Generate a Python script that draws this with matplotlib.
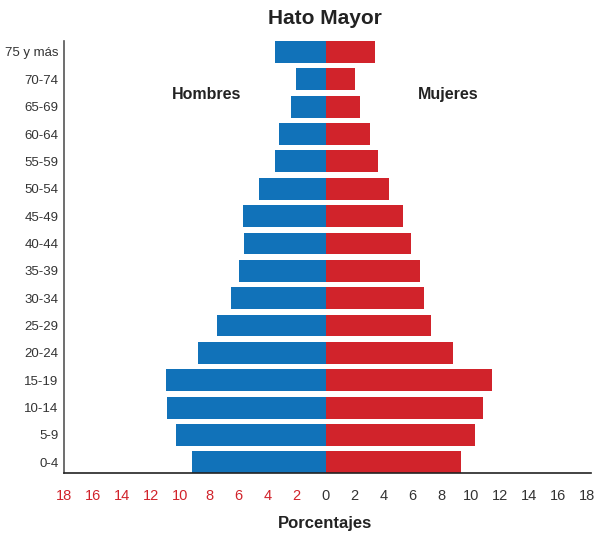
import numpy as np
import matplotlib
matplotlib.use("Agg")
import matplotlib.pyplot as plt

# Age groups (bottom to top)
ages = ["0-4", "5-9", "10-14", "15-19", "20-24", "25-29", "30-34", "35-39",
        "40-44", "45-49", "50-54", "55-59", "60-64", "65-69", "70-74", "75 y más"]

# Percentages
hombres = [9.2, 10.3, 10.9, 11.0, 8.8, 7.5, 6.5, 5.95, 5.6, 5.7, 4.55, 3.5, 3.2, 2.35, 2.0, 3.5]
mujeres = [9.35, 10.3, 10.85, 11.45, 8.8, 7.25, 6.8, 6.5, 5.9, 5.35, 4.4, 3.6, 3.05, 2.35, 2.05, 3.4]

xticks = [-18, -16, -14, -12, -10, -8, -6, -4, -2, 0, 2, 4, 6, 8, 10, 12, 14, 16, 18]

blue = "#1172b9"
red = "#d1232b"

plt.rcParams["font.family"] = ["Liberation Sans", "DejaVu Sans"]

fig = plt.figure(figsize=(5.96, 5.36), dpi=100)
ax = fig.add_axes([0.1074, 0.117, 0.885, 0.8065])

y = np.arange(len(ages))
ax.barh(y, -np.array(hombres), height=0.8, color=blue)
ax.barh(y, mujeres, height=0.8, color=red)

ax.set_xlim(-18, 18.3)
ax.set_ylim(-0.4, 15.4)

ax.set_yticks(y)
ax.set_yticklabels(ages, fontsize=9.5, color="#333333")
ax.set_xticks(xticks)
ax.set_xticklabels([str(abs(v)) for v in xticks], fontsize=10.5)
for lab, v in zip(ax.get_xticklabels(), xticks):
    lab.set_color(red if v < 0 else "#333333")
ax.tick_params(axis="both", length=0)
ax.tick_params(axis="x", pad=11)
ax.tick_params(axis="y", pad=4)

for side in ["top", "right"]:
    ax.spines[side].set_visible(False)
ax.spines["left"].set_color("#555555")
ax.spines["bottom"].set_color("#222222")
ax.spines["left"].set_linewidth(1.2)
ax.spines["bottom"].set_linewidth(1.2)

fig.text(0.546, 0.966, "Hato Mayor", ha="center", va="center",
         fontsize=15, fontweight="bold", color="#222222")
fig.text(0.346, 0.824, "Hombres", ha="center", va="center",
         fontsize=11.5, fontweight="bold", color="#222222")
fig.text(0.752, 0.824, "Mujeres", ha="center", va="center",
         fontsize=11.5, fontweight="bold", color="#222222")
fig.text(0.546, 0.024, "Porcentajes", ha="center", va="center",
         fontsize=12, fontweight="bold", color="#222222")

fig.savefig("out.png", dpi=100)
